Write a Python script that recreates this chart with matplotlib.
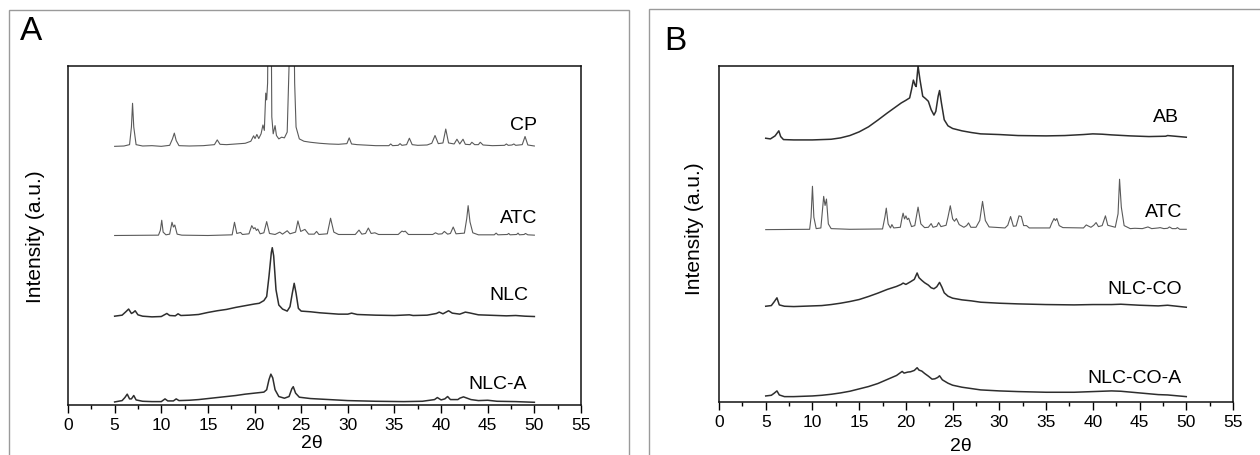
import matplotlib
matplotlib.use("Agg")
import matplotlib.pyplot as plt
from matplotlib.patches import Rectangle
from matplotlib.ticker import MultipleLocator

plt.rcParams['font.family'] = ['Liberation Sans Narrow', 'Liberation Sans', 'DejaVu Sans']

# ---------------- Panel A data (2theta, intensity offset in a.u.) ----------------
cp_x = [5.0, 6.0, 6.6, 6.8, 6.92, 7.05, 7.3, 8, 9, 10, 10.9, 11.2, 11.4, 11.6, 11.9, 13, 14.5, 15.7, 16.0, 16.3,
        17, 18, 19, 19.6, 19.9, 20.05, 20.25, 20.45, 20.7, 20.9, 21.05, 21.2, 21.3, 21.4, 21.5, 21.75, 21.85, 22.0,
        22.2, 22.35, 22.6, 22.9, 23.2, 23.5, 23.7, 23.8, 24.15, 24.3, 24.45, 24.6, 24.8, 25.3, 26, 27, 28, 29, 29.9,
        30.15, 30.4, 31, 33, 34.4, 34.6, 34.8, 35.4, 35.6, 35.8, 36.3, 36.6, 36.9, 37.5, 38.5, 39.0, 39.35, 39.7,
        40.2, 40.5, 40.8, 41.4, 41.7, 42.0, 42.35, 42.6, 43.1, 43.3, 43.6, 44.0, 44.2, 44.5, 45.5, 46.8, 47.0, 47.2,
        47.6, 47.8, 48.0, 48.7, 49.0, 49.3, 50]
cp_y = [76.3, 76.4, 76.8, 82, 89.0, 82, 76.8, 76.4, 76.5, 76.3, 76.6, 78.5, 80.2, 78, 76.5, 76.4, 76.5, 76.8, 78.2, 76.9,
        76.8, 77.0, 77.2, 77.8, 79.4, 78.6, 79.8, 78.6, 80, 82.6, 81, 92, 90, 95, 130, 130, 85, 80,
        82.4, 79.5, 78.5, 79, 78.8, 80.5, 100, 130, 130, 95, 82, 80.5, 78.5, 77.8, 77.5, 77.2, 77.0, 76.9, 77.1,
        78.8, 77.0, 76.8, 76.5, 76.5, 77.0, 76.5, 76.6, 77.1, 76.6, 76.8, 78.7, 76.8, 76.6, 76.7, 77.2, 79.5, 77.1,
        77.3, 81.4, 77.3, 77.0, 78.4, 77.0, 78.4, 76.9, 76.8, 77.5, 76.8, 76.8, 77.5, 76.7, 76.5, 76.6, 77.0, 76.6,
        76.7, 77.0, 76.6, 76.8, 79.2, 76.7, 76.4]

atc_a_x = [5, 9.7, 9.9, 10.05, 10.2, 10.5, 10.9, 11.15, 11.3, 11.45, 11.7, 12.2, 15, 17.6, 17.85, 18.1, 18.5, 18.7,
           19.4, 19.7, 19.9, 20.05, 20.2, 20.35, 20.6, 21.0, 21.3, 21.6, 22.2, 22.7, 23.0, 23.5, 23.8, 24.4, 24.65,
           24.95, 25.4, 25.8, 26.4, 26.65, 26.9, 27.8, 28.15, 28.5, 29, 30.8, 31.2, 31.5, 31.9, 32.2, 32.5, 32.9,
           33.3, 35.4, 35.8, 36.0, 36.15, 36.5, 39.1, 39.4, 39.7, 40.1, 40.35, 40.7, 41.0, 41.3, 41.6, 42.5, 42.75,
           42.9, 43.1, 43.4, 44.0, 45.7, 45.9, 46.1, 47.1, 47.25, 47.4, 48.1, 48.25, 48.4, 48.9, 49.05, 49.3, 50]
atc_a_y = [50.0, 50.1, 51.5, 54.5, 51, 50.2, 50.4, 53.9, 52.5, 53.1, 50.4, 50.1, 50.0, 50.2, 53.9, 50.6, 50.9, 50.3,
           50.5, 52.9, 52.0, 52.3, 51.5, 51.9, 50.5, 50.8, 54.1, 50.6, 50.3, 51.0, 50.4, 51.4, 50.5, 51, 54.3,
           51.2, 51.8, 50.4, 50.4, 51.2, 50.3, 50.5, 55.1, 51, 50.3, 50.3, 51.6, 50.4, 50.6, 52.2, 50.6, 50.8,
           50.3, 50.3, 51.3, 51.1, 51.3, 50.3, 50.3, 50.8, 50.4, 50.5, 51.2, 50.4, 50.6, 52.5, 50.5, 50.7, 55,
           58.8, 54, 50.8, 50.2, 50.2, 50.7, 50.2, 50.3, 50.6, 50.2, 50.3, 50.7, 50.2, 50.3, 50.6, 50.2, 50.1]

nlc_x = [5, 5.8, 6.2, 6.5, 6.8, 7.0, 7.2, 7.5, 8, 9, 10, 10.4, 10.6, 10.9, 11.5, 11.8, 12.1, 13, 14, 15, 16, 17, 18,
         19, 20, 20.5, 21, 21.3, 21.55, 21.8, 21.9, 22.05, 22.3, 22.6, 23, 23.5, 23.8, 24.05, 24.25, 24.45, 24.7,
         25.0, 26, 27, 28, 29, 30, 30.4, 31, 33, 35, 36.6, 37, 38.5, 39.5, 39.8, 40.2, 40.8, 41.2, 42, 42.6, 43.0,
         44, 45, 47, 48, 49, 50]
nlc_y = [26.2, 26.5, 27.5, 28.3, 27.0, 27.3, 27.8, 26.6, 26.2, 26.0, 26.1, 26.7, 27.0, 26.4, 26.3, 26.9, 26.4, 26.5,
         26.7, 27.3, 27.8, 28.2, 28.8, 29.3, 29.8, 30.0, 30.8, 32, 38, 45, 46.4, 44, 34, 29.5, 28.3, 27.7, 29, 33,
         35.9, 33, 28.5, 27.7, 27.5, 27.2, 27.0, 26.8, 26.8, 27.1, 26.7, 26.5, 26.4, 26.6, 26.4, 26.5, 27.0, 27.4,
         26.9, 27.8, 27.1, 26.8, 27.4, 27.2, 26.6, 26.5, 26.3, 26.4, 26.2, 26.1]

nlca_x = [5, 5.8, 6.1, 6.35, 6.6, 6.8, 7.05, 7.3, 8, 9, 10, 10.4, 10.7, 11.3, 11.6, 11.9, 13, 14, 15, 16, 17, 18, 19,
          20, 21, 21.3, 21.55, 21.75, 21.95, 22.2, 22.6, 23.2, 23.7, 24.0, 24.15, 24.4, 24.8, 26, 28, 30, 33, 36,
          38, 39.3, 39.6, 40, 40.4, 40.7, 41, 41.8, 42.0, 42.4, 42.7, 43.2, 44, 45, 46, 48, 50]
nlca_y = [0.9, 1.3, 2.2, 3.2, 1.8, 1.8, 2.8, 1.5, 1.1, 1.0, 1.0, 1.8, 1.2, 1.2, 1.8, 1.3, 1.4, 1.6, 1.9, 2.2, 2.5,
          2.8, 3.2, 3.5, 3.8, 4.5, 7.5, 9.1, 8.0, 4.5, 2.5, 2.0, 2.5, 4.8, 5.4, 3.5, 2.3, 1.9, 1.6, 1.3, 1.1, 1.0,
          1.1, 1.6, 2.2, 1.5, 1.8, 2.5, 1.6, 1.6, 2.0, 2.4, 2.1, 1.6, 1.3, 1.4, 1.1, 1.0, 0.8]

# ---------------- Panel B data ----------------
ab_x = [5, 5.5, 6.0, 6.4, 6.6, 6.9, 8, 10, 12, 13, 14, 15, 16, 17, 18, 18.5, 19, 19.5, 20, 20.4, 20.6, 20.8, 21.0,
        21.1, 21.3, 21.5, 21.8, 22.1, 22.4, 22.7, 23.0, 23.2, 23.45, 23.6, 23.8, 24.1, 24.5, 25, 26, 27, 28, 30,
        32, 35, 37, 39, 40, 41, 42, 44, 46, 47.8, 48, 50]
ab_y = [78.5, 78.3, 79.2, 80.7, 79, 78.1, 78.0, 78.0, 78.2, 78.6, 79.3, 80.4, 81.9, 83.9, 86.0, 87.0, 88.0, 89.0,
        89.8, 90.5, 93, 95.8, 94.2, 93.9, 100, 96, 91, 90.3, 89.5, 87, 85.4, 86.5, 91, 92.7, 89, 84, 82.2, 81.4,
        80.7, 80.2, 79.8, 79.6, 79.3, 79.2, 79.3, 79.6, 79.8, 79.7, 79.5, 79.2, 79.0, 79.1, 79.3, 78.8]

atc_b_x = [5, 9.7, 9.85, 10.0, 10.15, 10.4, 10.9, 11.1, 11.2, 11.35, 11.5, 11.7, 12.0, 14, 17.5, 17.75, 17.9, 18.1,
           18.35, 18.5, 18.7, 19.4, 19.6, 19.7, 19.85, 20.0, 20.15, 20.3, 20.6, 20.95, 21.3, 21.6, 22.0, 22.4,
           22.7, 22.9, 23.3, 23.5, 23.75, 24.3, 24.5, 24.75, 25.0, 25.2, 25.4, 25.7, 26.2, 26.5, 26.7, 26.95,
           27.5, 27.9, 28.2, 28.5, 28.9, 30.6, 30.9, 31.2, 31.5, 31.8, 32.1, 32.35, 32.6, 32.9, 33.2, 35.4, 35.6,
           35.85, 36.0, 36.15, 36.4, 36.8, 39.0, 39.3, 39.5, 39.8, 40.1, 40.35, 40.6, 41.0, 41.35, 41.6, 42.4,
           42.7, 42.86, 43.05, 43.35, 44.0, 44.5, 45.3, 45.9, 46.3, 47.0, 47.2, 47.6, 48.0, 48.2, 48.5, 48.9,
           49.05, 49.3, 50]
atc_b_y = [51.3, 51.4, 55, 64.2, 55, 51.6, 51.8, 58, 61.2, 58.5, 60.4, 53, 51.6, 51.4, 51.5, 55, 57.7, 53,
           51.8, 52.8, 51.8, 52.0, 55, 56.2, 54.5, 55.4, 54.3, 54.7, 52.2, 52.5, 58.0, 53, 51.9, 52,
           53.1, 52.0, 52.3, 53.4, 52.2, 52.6, 55, 58.4, 54.5, 53.8, 54.6, 52.8, 52.0, 52.5, 53.3, 52.0,
           52.0, 54, 59.7, 54, 52.1, 51.8, 52.6, 55.2, 52.3, 52.4, 55.4, 55.2, 52.5, 52.5, 51.8, 51.8, 53.2,
           54.6, 54.0, 54.6, 52.5, 51.9, 51.8, 52.7, 52.4, 52.0, 52.6, 53.4, 52.2, 52.5, 55.4, 52.6, 52.0,
           56, 66.3, 58, 52.5, 51.6, 51.7, 51.6, 52.1, 51.6, 51.8, 51.9, 51.6, 51.7, 52.1, 51.6, 51.6,
           51.9, 51.4, 51.4]

nlcco_x = [5, 5.6, 5.9, 6.2, 6.45, 7, 8, 10, 11, 12, 13, 14, 15, 16, 17, 18, 19, 19.5, 19.7, 20.0, 20.5, 20.9,
           21.2, 21.4, 21.7, 22.0, 22.4, 22.7, 23.0, 23.3, 23.6, 23.85, 24.1, 24.5, 25, 26, 27, 28, 30, 32, 35,
           38, 40, 42, 43, 45, 47, 48, 50]
nlcco_y = [28.5, 28.7, 29.8, 31.0, 28.9, 28.5, 28.4, 28.6, 28.7, 29.0, 29.4, 29.9, 30.5, 31.4, 32.4, 33.5, 34.4,
           35.0, 35.4, 35.0, 35.8, 36.5, 38.4, 37.0, 36.2, 35.5, 34.8, 34.0, 33.7, 34.3, 35.6, 34.2, 32.5, 31.5,
           30.9, 30.4, 30.1, 29.7, 29.4, 29.2, 29.0, 28.9, 29.0, 29.0, 29.1, 28.8, 28.6, 28.8, 28.2]

nlccoa_x = [5, 5.6, 5.9, 6.2, 6.45, 7, 8, 10, 11, 12, 13, 14, 15, 16, 17, 18, 19, 19.6, 19.8, 20.2, 20.5, 20.9,
            21.2, 21.4, 21.7, 22.0, 22.4, 22.8, 23.1, 23.4, 23.6, 23.9, 24.5, 25, 26, 27, 28, 30, 32, 35, 38, 40,
            42, 43, 45, 47, 48, 50]
nlccoa_y = [1.8, 2.0, 2.6, 3.3, 2.1, 1.6, 1.6, 1.8, 2.0, 2.3, 2.7, 3.2, 3.9, 4.6, 5.5, 6.7, 7.9, 9.1, 8.6, 8.9,
            9.0, 9.4, 10.2, 9.5, 9.2, 8.5, 7.7, 6.8, 6.9, 7.3, 7.8, 6.6, 5.6, 5.0, 4.4, 4.0, 3.6, 3.3, 3.1, 2.9,
            2.9, 3.1, 3.3, 3.2, 2.7, 2.2, 2.1, 1.6]

labels_a = ["CP", "ATC", "NLC", "NLC-A"]
label_a_y = [82.6, 55.2, 32.6, 6.2]
label_a_x = [50.3, 50.3, 49.4, 49.2]
labels_b = ["AB", "ATC", "NLC-CO", "NLC-CO-A"]
label_b_y = [85.0, 56.7, 33.7, 7.2]
label_b_x = [49.2, 49.6, 49.5, 49.5]
x_ticks = list(range(0, 56, 5))

W, H = 1260, 456
fig = plt.figure(figsize=(W / 100, H / 100), dpi=100)

# panel frames
fig.patches.append(Rectangle((9 / W, 1 - 470 / H), 620 / W, 459 / H, transform=fig.transFigure,
                             fill=False, edgecolor='#9a9a9a', linewidth=1.0))
fig.patches.append(Rectangle((649 / W, 1 - 470 / H), 700 / W, 460 / H, transform=fig.transFigure,
                             fill=False, edgecolor='#9a9a9a', linewidth=1.0))

axA = fig.add_axes([68 / W, 1 - 406 / H, 513 / W, 339 / H])
axB = fig.add_axes([719 / W, 1 - 403 / H, 514 / W, 336 / H])

def style(ax):
    ax.set_xlim(0, 55)
    ax.set_ylim(0, 100)
    ax.set_yticks([])
    ax.set_xticks(x_ticks)
    ax.xaxis.set_minor_locator(MultipleLocator(2.5))
    ax.tick_params(axis='x', which='major', direction='out', length=6, width=1.0, labelsize=12.5, pad=3)
    ax.tick_params(axis='x', which='minor', direction='out', length=3, width=1.0)
    ax.tick_params(top=False, right=False)
    for s in ax.spines.values():
        s.set_linewidth(1.1)
        s.set_color('#111111')
    ax.set_xlabel('2θ', fontsize=14, family=['Liberation Sans', 'DejaVu Sans'])
    ax.set_ylabel('Intensity (a.u.)', fontsize=15)

style(axA)
style(axB)
axA.xaxis.set_label_coords(0.475, -0.085)
axB.xaxis.set_label_coords(0.47, -0.105)
axA.yaxis.set_label_coords(-0.045, 0.5)
axB.yaxis.set_label_coords(-0.03, 0.52)

light = '#5a5a5a'
dark = '#2e2e2e'
axA.plot(cp_x, cp_y, color=light, lw=0.8)
axA.plot(atc_a_x, atc_a_y, color=light, lw=0.8)
axA.plot(nlc_x, nlc_y, color=dark, lw=1.1)
axA.plot(nlca_x, nlca_y, color=dark, lw=1.1)

axB.plot(ab_x, ab_y, color=dark, lw=1.1)
axB.plot(atc_b_x, atc_b_y, color=light, lw=0.8)
axB.plot(nlcco_x, nlcco_y, color=dark, lw=1.1)
axB.plot(nlccoa_x, nlccoa_y, color=dark, lw=1.1)

for t, x, y in zip(labels_a, label_a_x, label_a_y):
    axA.text(x, y, t, ha='right', va='center', fontsize=14)
for t, x, y in zip(labels_b, label_b_x, label_b_y):
    axB.text(x, y, t, ha='right', va='center', fontsize=14)

fig.text(20 / W, 1 - 32 / H, 'A', fontsize=24, ha='left', va='center', family=['Liberation Sans'])
fig.text(664 / W, 1 - 42 / H, 'B', fontsize=24, ha='left', va='center', family=['Liberation Sans'])

fig.savefig('out.png', dpi=100)
